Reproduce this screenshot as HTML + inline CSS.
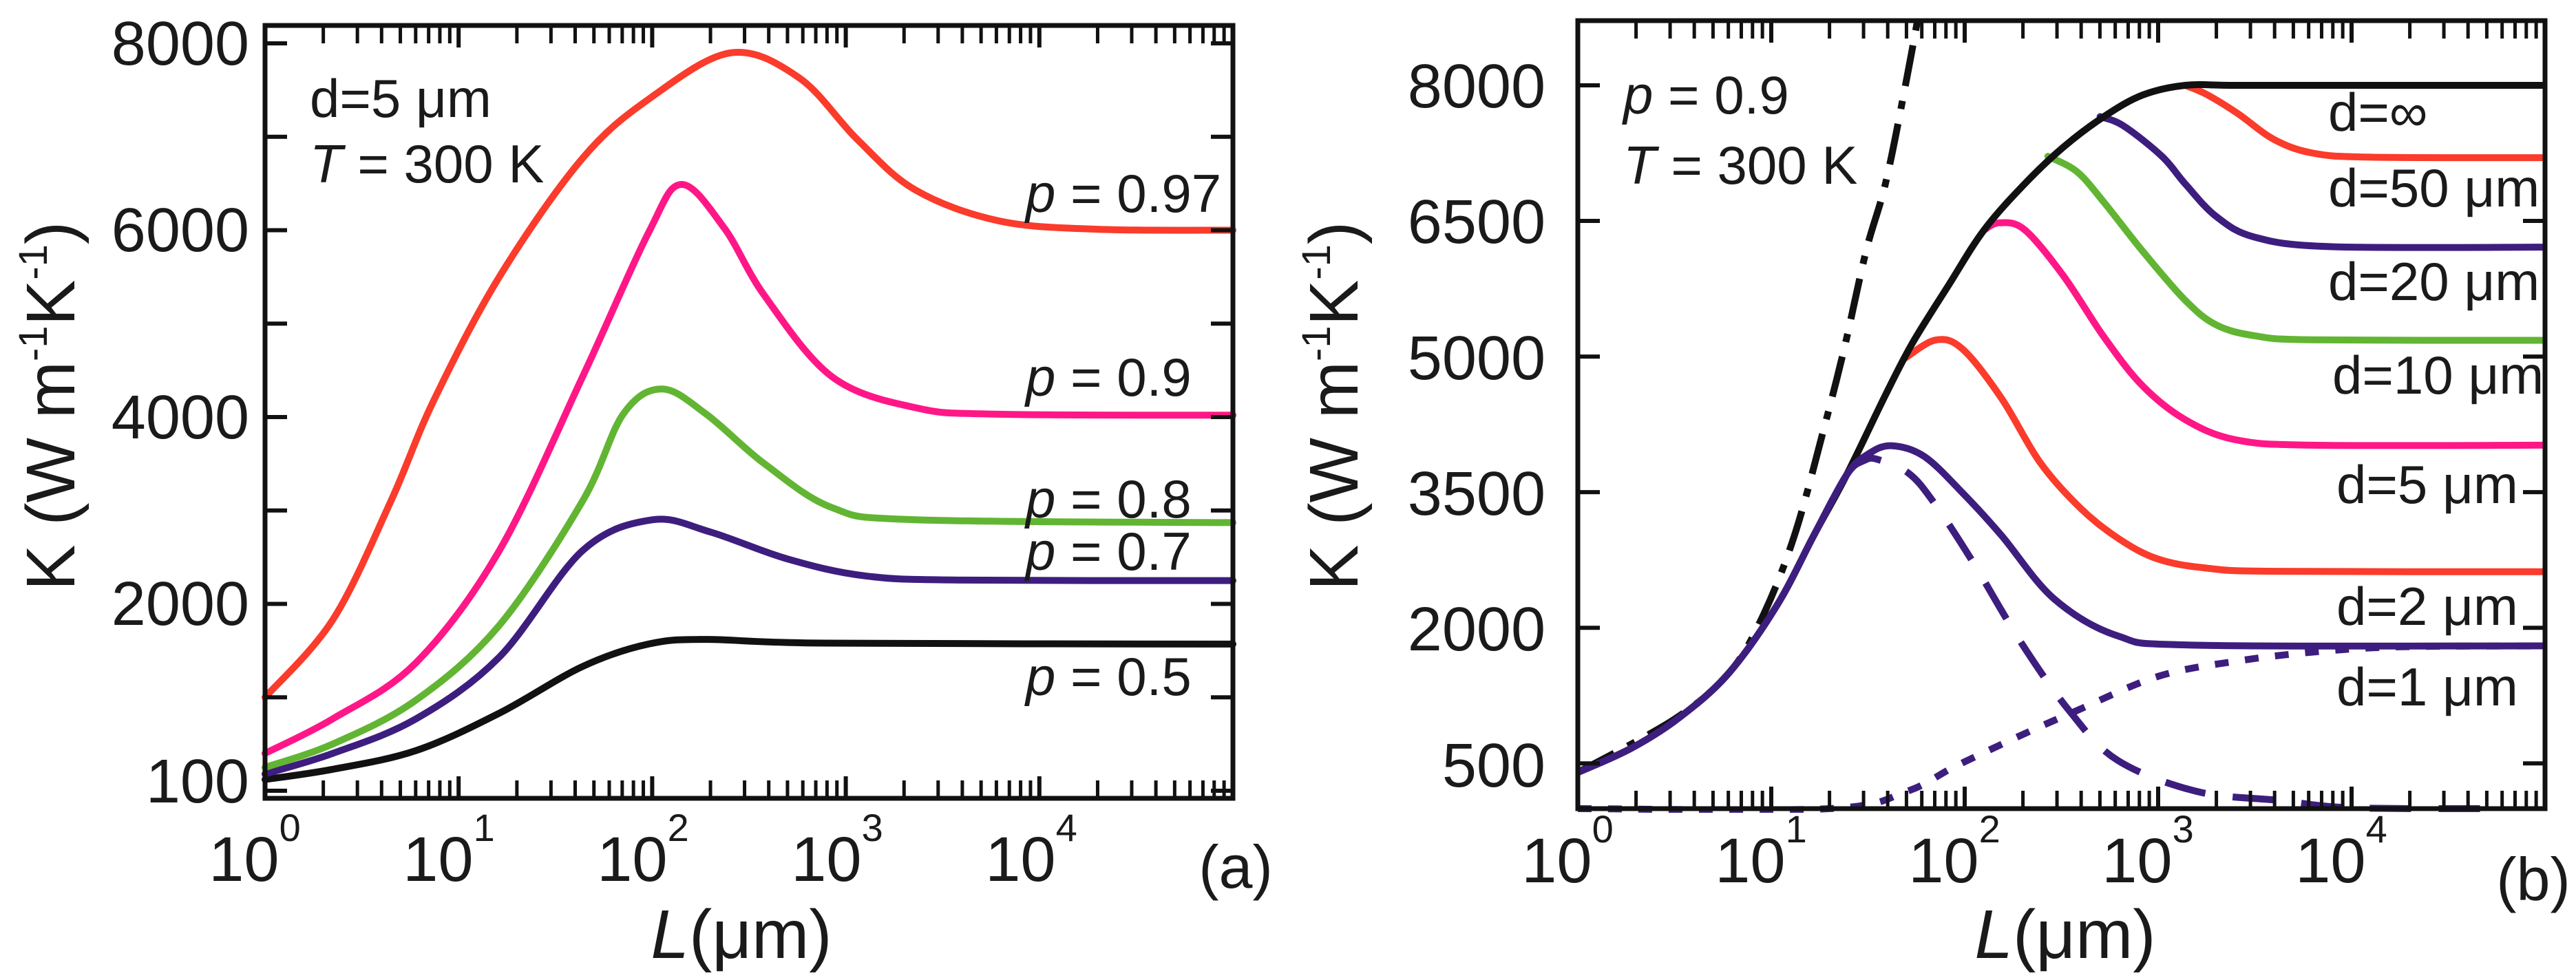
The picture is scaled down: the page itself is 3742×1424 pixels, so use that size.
<!DOCTYPE html>
<html><head><meta charset="utf-8"><style>
html,body{margin:0;padding:0;background:#fff;}
svg{display:block;font-family:"Liberation Sans",sans-serif;}
text{fill:#1a1a1a;}
</style></head><body>
<svg id="fig" width="3742" height="1424" viewBox="0 0 3742 1424" xmlns="http://www.w3.org/2000/svg">
<rect width="3742" height="1424" fill="#fff"/>
<g id="pa">
  <g id="pa-curves"></g>
  <g id="pa-axes"></g>
  <g font-size="90" text-anchor="end">
    <text x="362" y="94">8000</text>
    <text x="362" y="365">6000</text>
    <text x="362" y="637">4000</text>
    <text x="362" y="908">2000</text>
    <text x="362" y="1166">100</text>
  </g>
  <g font-size="92" text-anchor="middle">
    <text x="370" y="1280">10<tspan font-size="56" dy="-58">0</tspan></text>
    <text x="652" y="1280">10<tspan font-size="56" dy="-58">1</tspan></text>
    <text x="934" y="1280">10<tspan font-size="56" dy="-58">2</tspan></text>
    <text x="1216" y="1280">10<tspan font-size="56" dy="-58">3</tspan></text>
    <text x="1498" y="1280">10<tspan font-size="56" dy="-58">4</tspan></text>
  </g>
  <text x="1795" y="1290" font-size="88" text-anchor="middle">(a)</text>
  <text x="1077" y="1392" font-size="100" text-anchor="middle"><tspan font-style="italic">L</tspan>(μm)</text>
  <text transform="translate(108,590) rotate(-90)" font-size="100" text-anchor="middle">K (W m<tspan font-size="58" dy="-40">-1</tspan><tspan dy="40">K</tspan><tspan font-size="58" dy="-40">-1</tspan><tspan dy="40">)</tspan></text>
  <text x="450" y="170" font-size="78">d=5 μm</text>
  <text x="450" y="265" font-size="78"><tspan font-style="italic">T</tspan> = 300 K</text>
  <g font-size="78">
    <text x="1490" y="308"><tspan font-style="italic">p</tspan> = 0.97</text>
    <text x="1490" y="575"><tspan font-style="italic">p</tspan> = 0.9</text>
    <text x="1490" y="752"><tspan font-style="italic">p</tspan> = 0.8</text>
    <text x="1490" y="828"><tspan font-style="italic">p</tspan> = 0.7</text>
    <text x="1490" y="1010"><tspan font-style="italic">p</tspan> = 0.5</text>
  </g>
</g>
<g id="pb">
  <g id="pb-curves"></g>
  <g id="pb-axes"></g>
  <g font-size="90" text-anchor="end">
    <text x="2245" y="156">8000</text>
    <text x="2245" y="353">6500</text>
    <text x="2245" y="551">5000</text>
    <text x="2245" y="748">3500</text>
    <text x="2245" y="945">2000</text>
    <text x="2245" y="1143">500</text>
  </g>
  <g font-size="92" text-anchor="middle">
    <text x="2277" y="1282">10<tspan font-size="56" dy="-58">0</tspan></text>
    <text x="2558" y="1282">10<tspan font-size="56" dy="-58">1</tspan></text>
    <text x="2839" y="1282">10<tspan font-size="56" dy="-58">2</tspan></text>
    <text x="3120" y="1282">10<tspan font-size="56" dy="-58">3</tspan></text>
    <text x="3401" y="1282">10<tspan font-size="56" dy="-58">4</tspan></text>
  </g>
  <text x="3680" y="1308" font-size="88" text-anchor="middle">(b)</text>
  <text x="3000" y="1392" font-size="100" text-anchor="middle"><tspan font-style="italic">L</tspan>(μm)</text>
  <text transform="translate(1972,590) rotate(-90)" font-size="100" text-anchor="middle">K (W m<tspan font-size="58" dy="-40">-1</tspan><tspan dy="40">K</tspan><tspan font-size="58" dy="-40">-1</tspan><tspan dy="40">)</tspan></text>
  <text x="2358" y="165" font-size="78"><tspan font-style="italic">p</tspan> = 0.9</text>
  <text x="2358" y="267" font-size="78"><tspan font-style="italic">T</tspan> = 300 K</text>
  <g font-size="78">
    <text x="3382" y="190">d=∞</text>
    <text x="3382" y="300">d=50 μm</text>
    <text x="3382" y="436">d=20 μm</text>
    <text x="3388" y="572">d=10 μm</text>
    <text x="3394" y="731">d=5 μm</text>
    <text x="3394" y="908">d=2 μm</text>
    <text x="3394" y="1025">d=1 μm</text>
  </g>
</g>
</svg>
<script>
// ---- Panel (a) data: log10(L/um) and K ----
const aLogL_097 = [0,0.35,0.65,0.87,1.21,1.64,2.0,2.41,2.76,3.06,3.36,3.79,4.3,5];
const aK_097    = [1000,1830,3100,4170,5500,6770,7430,7900,7630,6970,6430,6100,6010,6000];
const aLogL_09  = [0,0.35,0.78,1.21,1.64,1.98,2.15,2.37,2.58,2.93,3.36,3.79,5];
const aK_09     = [400,770,1370,2570,4430,5970,6490,6030,5300,4430,4100,4030,4020];
const aLogL_08  = [0,0.35,0.78,1.21,1.64,1.85,2.05,2.28,2.58,2.93,3.36,5];
const aK_08     = [250,500,970,1770,3100,4030,4300,4030,3500,3030,2900,2870];
const aLogL_07  = [0,0.35,0.78,1.21,1.64,2.0,2.3,2.7,3.1,3.6,5];
const aK_07     = [180,400,770,1430,2570,2900,2770,2480,2300,2255,2250];
const aLogL_05  = [0,0.35,0.78,1.21,1.64,1.98,2.28,2.9,5];
const aK_05     = [120,230,430,830,1330,1570,1620,1580,1570];
// ---- Panel (b) data ----
const bLogL_inf = [0,0.28,0.53,0.78,1.03,1.22,1.39,1.59,1.73,1.92,2.10,2.31,2.51,2.72,2.92,3.14,3.4,4,5];
const bK_inf    = [400,672,1016,1498,2250,3022,3693,4573,5149,5800,6400,6910,7316,7654,7892,8000,8000,8000,8000];
const bLogL_d50 = [3.14,3.25,3.41,3.6,3.8,4.1,5];
const bK_d50    = [8000,7900,7691,7400,7250,7205,7200];
const bLogL_d20 = [2.70,2.82,3.02,3.14,3.3,3.5,3.9,5];
const bK_d20    = [7654,7553,7214,6910,6550,6320,6215,6210];
const bLogL_d10 = [2.43,2.58,2.72,2.92,3.14,3.3,3.5,3.8,5];
const bK_d10    = [7214,7045,6706,6165,5623,5350,5230,5185,5180];
const bLogL_d5  = [2.10,2.18,2.31,2.51,2.72,2.92,3.14,3.4,3.8,5];
const bK_d5     = [6400,6480,6402,5894,5216,4675,4302,4080,4020,4020];
const bLogL_d2  = [1.69,1.85,1.99,2.19,2.39,2.60,2.80,3.0,3.25,3.6,5];
const bK_d2     = [4980,5183,5081,4539,3828,3320,2980,2760,2660,2625,2620];
const bLogL_d1  = [0,0.28,0.53,0.78,1.03,1.22,1.39,1.5,1.62,1.79,1.99,2.19,2.46,2.79,3.2,5];
const bK_d1     = [400,672,1016,1498,2250,3022,3693,3920,4014,3896,3490,3022,2324,1911,1808,1800];
const bLogL_dash = [0,0.28,0.53,0.78,1.03,1.22,1.39,1.48,1.55,1.71,1.84,2.04,2.29,2.54,2.79,3.2,3.63,4.0,4.8];
const bK_dash    = [400,672,1016,1498,2250,3022,3693,3850,3862,3710,3388,2736,1842,1085,535,190,90,10,0];
const bLogL_dot  = [0,1.3,1.7,1.95,2.29,2.58,3.0,3.42,3.84,4.26,5];
const bK_dot     = [0,0,190,466,810,1085,1463,1636,1739,1790,1800];
const bLogL_dd   = [0,0.5,0.78,0.95,1.12,1.28,1.38,1.49,1.59,1.69,1.78];
const bK_dd      = [400,990,1498,2100,3022,4268,5115,6165,6910,7959,9000];

const NS="http://www.w3.org/2000/svg";
function mk(tag,attrs,parent){const e=document.createElementNS(NS,tag);for(const k in attrs)e.setAttribute(k,attrs[k]);parent.appendChild(e);return e;}
const A={x0:385,x1:1791,y0:1149,yTop:37,yBottom:1160,perK:0.13575,decades:5};
const B={x0:2292,x1:3697,y0:1175,yTop:30,yBottom:1175,perK:0.13138,decades:5};
function xS(P,lg){return P.x0+(P.x1-P.x0)*lg/P.decades;}
function yS(P,v){return P.y0-v*P.perK;}
function pathD(P,xs,ys){
  const pts=xs.map((x,i)=>[xS(P,x),yS(P,ys[i])]);
  let d="M"+pts[0][0].toFixed(1)+","+pts[0][1].toFixed(1);
  for(let i=0;i<pts.length-1;i++){
    const p0=pts[Math.max(0,i-1)],p1=pts[i],p2=pts[i+1],p3=pts[Math.min(pts.length-1,i+2)];
    const c1=[p1[0]+(p2[0]-p0[0])/6,p1[1]+(p2[1]-p0[1])/6];
    const c2=[p2[0]-(p3[0]-p1[0])/6,p2[1]-(p3[1]-p1[1])/6];
    d+=" C"+c1[0].toFixed(1)+","+c1[1].toFixed(1)+" "+c2[0].toFixed(1)+","+c2[1].toFixed(1)+" "+p2[0].toFixed(1)+","+p2[1].toFixed(1);
  }
  return d;
}
function curve(P,g,xs,ys,color,name,dash){
  const p=mk("path",{d:pathD(P,xs,ys),fill:"none",stroke:color,"stroke-width":10,"stroke-linejoin":"round","stroke-linecap":"round"},g);
  if(dash){p.setAttribute("stroke-dasharray",dash);p.setAttribute("stroke-linecap","butt");}
  
  
}
function axes(P,g,yTicks){
  const f=mk("rect",{x:P.x0,y:P.yTop,width:P.x1-P.x0,height:P.yBottom-P.yTop,fill:"none",stroke:"#111","stroke-width":7},g);
  
  
  for(let dcd=0;dcd<P.decades;dcd++){
    for(let k=1;k<=9;k++){
      const x=xS(P,dcd+Math.log10(k));
      const len=k===1?32:26;
      if(k===1&&dcd===0)continue;
      const t1=mk("line",{x1:x,x2:x,y1:P.yBottom,y2:P.yBottom-len,stroke:"#111","stroke-width":k===1?6:5},g);
      
      
      const t2=mk("line",{x1:x,x2:x,y1:P.yTop,y2:P.yTop+len,stroke:"#111","stroke-width":k===1?6:5},g);
      
      
    }
  }
  yTicks.forEach(v=>{
    const y=yS(P,v);
    const l=mk("line",{x1:P.x0,x2:P.x0+32,y1:y,y2:y,stroke:"#111","stroke-width":6},g);
    
    
    const r=mk("line",{x1:P.x1,x2:P.x1-32,y1:y,y2:y,stroke:"#111","stroke-width":6},g);
    
    
  });
}
const aTicks=[0,1000,2000,3000,4000,5000,6000,7000,8000];
const bTicks=[500,2000,3500,5000,6500,8000];
const ga=document.getElementById("pa-curves");
curve(A,ga,aLogL_05,aK_05,"#111","curve-p05");
curve(A,ga,aLogL_07,aK_07,"#3d1e7e","curve-p07");
curve(A,ga,aLogL_08,aK_08,"#62b533","curve-p08");
curve(A,ga,aLogL_09,aK_09,"#ff1787","curve-p09");
curve(A,ga,aLogL_097,aK_097,"#fb3b2b","curve-p097");
axes(A,document.getElementById("pa-axes"),aTicks);

const gb=document.getElementById("pb-curves");
const clip=mk("clipPath",{id:"clipb"},gb);
mk("rect",{x:B.x0,y:B.yTop,width:B.x1-B.x0,height:B.yBottom-B.yTop+6},clip);
const gbc=mk("g",{"clip-path":"url(#clipb)"},gb);


curve(B,gbc,bLogL_dd,bK_dd,"#111","curve-ballistic-dashdot","60,22,12,22");
curve(B,gbc,bLogL_d50,bK_d50,"#fb3b2b","curve-d50");
curve(B,gbc,bLogL_d20,bK_d20,"#3d1e7e","curve-d20");
curve(B,gbc,bLogL_d10,bK_d10,"#62b533","curve-d10");
curve(B,gbc,bLogL_d5,bK_d5,"#ff1787","curve-d5");
curve(B,gbc,bLogL_d2,bK_d2,"#fb3b2b","curve-d2");
curve(B,gbc,bLogL_inf,bK_inf,"#111","curve-d-inf");
curve(B,gbc,bLogL_d1,bK_d1,"#3d1e7e","curve-d1");
curve(B,gbc,bLogL_dash,bK_dash,"#3d1e7e","curve-d1-dashed-component","60,40");
curve(B,gbc,bLogL_dot,bK_dot,"#3d1e7e","curve-d1-dotted-component","20,24");
axes(B,document.getElementById("pb-axes"),bTicks);
</script>
</body></html>
